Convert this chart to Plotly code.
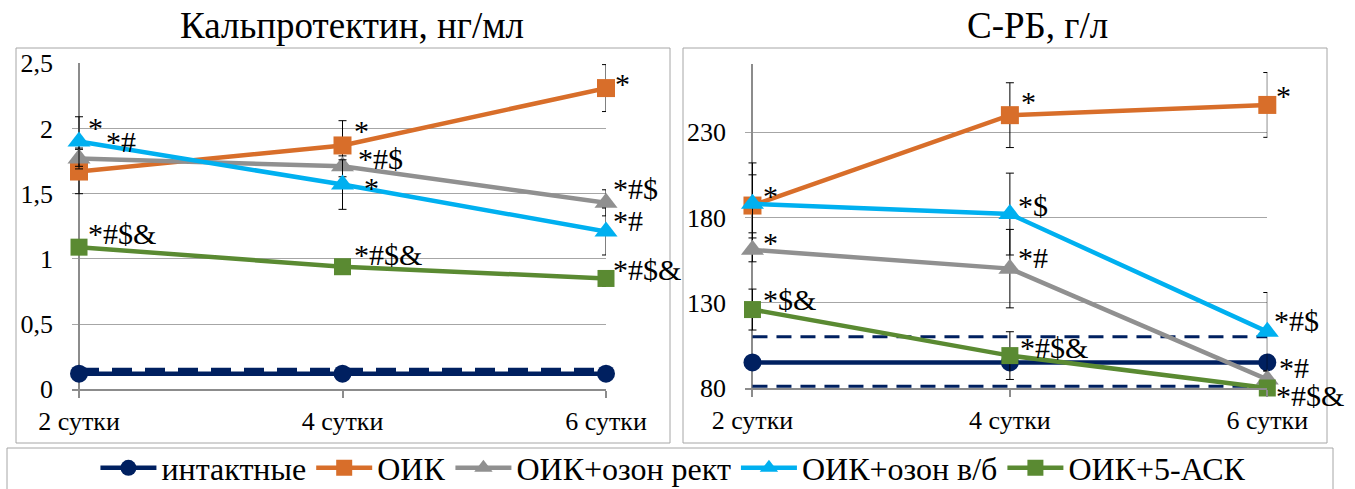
import plotly.graph_objects as go

# ---------------- data ----------------
categories = ["2 сутки", "4 сутки", "6 сутки"]
series_names = ["интактные", "ОИК", "ОИК+озон рект", "ОИК+озон в/б", "ОИК+5-АСК"]

# Кальпротектин, нг/мл
calp_intact = [0.12, 0.12, 0.12]
calp_oik = [1.67, 1.87, 2.31]
calp_rect = [1.77, 1.71, 1.43]
calp_vb = [1.90, 1.57, 1.21]
calp_5ask = [1.09, 0.94, 0.85]
calp_intact_err = [0.0, 0.0, 0.0]
calp_oik_err = [0.17, 0.19, 0.18]
calp_rect_err = [0.08, 0.08, 0.10]
calp_vb_err = [0.19, 0.19, 0.18]
calp_5ask_err = [0.04, 0.04, 0.06]
calp_norm_low = 0.13
calp_norm_high = 0.15

# С-РБ, г/л
crp_intact = [95, 95, 95]
crp_oik = [187, 240, 246]
crp_rect = [161, 150, 85]
crp_vb = [188, 182, 113]
crp_5ask = [126, 99, 80]
crp_intact_err = [0, 0, 0]
crp_oik_err = [25, 19, 19]
crp_rect_err = [7, 23, 5]
crp_vb_err = [17, 24, 23]
crp_5ask_err = [12, 14, 3]
crp_norm_low = 81
crp_norm_high = 110

# significance marks
calp_intact_sig = ["", "", ""]
calp_oik_sig = ["", "*", "*"]
calp_rect_sig = ["*#", "*#$", "*#$"]
calp_vb_sig = ["*", "*", "*#"]
calp_5ask_sig = ["*#$&", "*#$&", "*#$&"]

crp_intact_sig = ["", "", ""]
crp_oik_sig = ["*", "*", "*"]
crp_rect_sig = ["*", "*#", "*#"]
crp_vb_sig = ["", "*$", "*#$"]
crp_5ask_sig = ["*$&", "*#$&", "*#$&"]

# ---------------- style ----------------
W, H = 1355, 489
FONT = "Liberation Serif"
colors = ["#002060", "#D86E2A", "#909090", "#00B0F0", "#5A8A32"]
symbols = ["circle", "square", "triangle-up", "triangle-up", "square"]
msizes = [18, 18, 20, 20, 17]

# label offsets (px): series index -> day index -> (dx, dy)
calp_off = {
    1: {1: (10, 15), 2: (8, 5)},
    2: {0: (26, 16.5), 1: (14, 8), 2: (6, 14)},
    3: {0: (8, 14.5), 1: (20, -2.5), 2: (6, 11.5)},
    4: {0: (8, 14), 1: (10, 12.7), 2: (6, 8.5)},
}
crp_off = {
    1: {0: (10, 9.6), 1: (10, 14), 2: (8, 9)},
    2: {0: (10, 7), 1: (7, 10.7), 2: (11, 12)},
    3: {1: (7, 9), 2: (6, 11.7)},
    4: {0: (10, 9.6), 1: (9, 8.6), 2: (8, -7)},
}

def px2fx(p):
    return p / W

def py2fy(p):
    return 1 - p / H

xi = list(range(len(categories)))

fig = go.Figure()

panels = [
    dict(xa="x", ya="y",
         vals=[calp_intact, calp_oik, calp_rect, calp_vb, calp_5ask],
         errs=[calp_intact_err, calp_oik_err, calp_rect_err, calp_vb_err, calp_5ask_err],
         sigs=[calp_intact_sig, calp_oik_sig, calp_rect_sig, calp_vb_sig, calp_5ask_sig],
         norms=[calp_norm_low, calp_norm_high], off=calp_off, legend=True,
         dash="20px,13px", dashw=4),
    dict(xa="x2", ya="y2",
         vals=[crp_intact, crp_oik, crp_rect, crp_vb, crp_5ask],
         errs=[crp_intact_err, crp_oik_err, crp_rect_err, crp_vb_err, crp_5ask_err],
         sigs=[crp_intact_sig, crp_oik_sig, crp_rect_sig, crp_vb_sig, crp_5ask_sig],
         norms=[crp_norm_low, crp_norm_high], off=crp_off, legend=False,
         dash="15px,9px", dashw=3),
]

annotations = []
for p in panels:
    for nv in p["norms"]:
        fig.add_trace(go.Scatter(
            x=[xi[0], xi[-1]], y=[nv, nv], mode="lines",
            line=dict(color=colors[0], width=p["dashw"], dash=p["dash"]),
            xaxis=p["xa"], yaxis=p["ya"], showlegend=False, hoverinfo="skip"))
    for s in range(len(series_names)):
        fig.add_trace(go.Scatter(
            x=xi, y=p["vals"][s], name=series_names[s], mode="lines+markers",
            line=dict(color=colors[s], width=4.5),
            marker=dict(symbol=symbols[s], size=msizes[s], color=colors[s]),
            error_y=dict(type="data", array=p["errs"][s], color="black",
                         thickness=1, width=4, visible=True),
            xaxis=p["xa"], yaxis=p["ya"], showlegend=p["legend"],
            legendrank=s, cliponaxis=False))
        for d in range(len(categories)):
            txt = p["sigs"][s][d]
            if not txt:
                continue
            dx, dy = p["off"].get(s, {}).get(d, (8, 10))
            annotations.append(dict(
                x=xi[d], y=p["vals"][s][d], xref=p["xa"], yref=p["ya"],
                text=txt, showarrow=False, xanchor="left", yanchor="middle",
                xshift=dx, yshift=dy, borderpad=0,
                font=dict(family=FONT, size=30, color="black")))

# titles
annotations.append(dict(x=px2fx(352), y=py2fy(26), xref="paper", yref="paper",
                        text="Кальпротектин, нг/мл", showarrow=False,
                        xanchor="center", yanchor="middle",
                        font=dict(family=FONT, size=37, color="black")))
annotations.append(dict(x=px2fx(1037), y=py2fy(26), xref="paper", yref="paper",
                        text="С-РБ, г/л", showarrow=False,
                        xanchor="center", yanchor="middle",
                        font=dict(family=FONT, size=37, color="black")))

box = dict(type="rect", xref="paper", yref="paper",
           line=dict(color="#A6A6A6", width=1), fillcolor="rgba(0,0,0,0)", layer="below")
shapes = [
    dict(box, x0=px2fx(16), x1=px2fx(670), y0=py2fy(443), y1=py2fy(48)),
    dict(box, x0=px2fx(683), x1=px2fx(1327), y0=py2fy(443), y1=py2fy(48)),
    dict(box, x0=px2fx(7), x1=px2fx(1333), y0=py2fy(495), y1=py2fy(448)),
]

GRID = "#A6A6A6"
AXIS = "#8C8C8C"
tickfont = dict(family=FONT, size=26, color="black")

common_x = dict(tickvals=xi, ticktext=categories, showgrid=False,
                zeroline=True, zerolinecolor=AXIS, zerolinewidth=1.5,
                showline=True, linecolor=AXIS, linewidth=1.5,
                ticks="outside", ticklen=7, tickcolor=AXIS, tickwidth=1.5,
                tickfont=tickfont, ticklabelstandoff=1, fixedrange=True,
                automargin=False)
common_y = dict(showgrid=True, gridcolor=GRID, gridwidth=1, zeroline=False,
                showline=False, ticks="", tickfont=tickfont,
                ticklabelstandoff=18, fixedrange=True, automargin=False)

fig.update_layout(
    width=W, height=H,
    margin=dict(l=0, r=0, t=0, b=0, pad=0, autoexpand=False),
    paper_bgcolor="white", plot_bgcolor="white",
    font=dict(family=FONT, color="black"),
    showlegend=True,
    legend=dict(orientation="h", x=0.497, xanchor="center", y=py2fy(468), yanchor="middle",
                font=dict(family=FONT, size=32, color="black"),
                itemwidth=56, bgcolor="rgba(0,0,0,0)", traceorder="normal",
                itemclick=False, itemdoubleclick=False),
    xaxis=dict(common_x, domain=[px2fx(72), px2fx(606)], range=[-0.0266, 2], anchor="y"),
    yaxis=dict(common_y, domain=[py2fy(389.3), py2fy(63.3)], range=[0, 2.5], dtick=0.5,
               anchor="x"),
    xaxis2=dict(common_x, domain=[px2fx(745), px2fx(1267.3)], range=[-0.029, 2], anchor="y2"),
    yaxis2=dict(common_y, domain=[py2fy(388), py2fy(64)], range=[80, 270], tick0=80, dtick=50,
                anchor="x2"),
    separators=", ",
    annotations=annotations,
    shapes=shapes,
)

fig.write_html("out.html",
               config={"displayModeBar": False},
               post_script="document.body.style.margin='0';document.body.style.padding='0';"
                           "document.documentElement.style.overflow='hidden';")
